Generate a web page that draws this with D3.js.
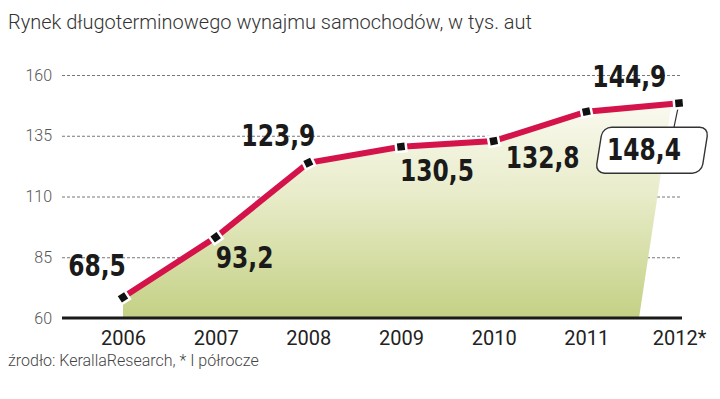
<!DOCTYPE html>
<html>
<head>
<meta charset="utf-8">
<script src="https://cdn.jsdelivr.net/npm/d3@7"></script>
<style>
  body { margin: 0; background: #fff; }
  svg { display: block; }
  .title { font-family: Roboto, "Open Sans", sans-serif; font-weight: 300; font-size: 20px; fill: #333; }
  .source { font-family: Roboto, "Open Sans", sans-serif; font-weight: 300; font-size: 16px; fill: #444; }
  .yaxis text { font-family: Roboto, sans-serif; font-weight: 300; font-size: 16px; fill: #555; }
  .xaxis text { font-family: Roboto, sans-serif; font-size: 20px; fill: #222; }
  .val { font-family: "DejaVu Sans Condensed", sans-serif; font-weight: bold; font-size: 26px; fill: #1a1a1a; }
</style>
</head>
<body>
<div id="chart"></div>
<script>
var years = ["2006", "2007", "2008", "2009", "2010", "2011", "2012*"];
var values = [68.5, 93.2, 123.9, 130.5, 132.8, 144.9, 148.4];
var valueLabels = ["68,5", "93,2", "123,9", "130,5", "132,8", "144,9", "148,4"];
var yTicks = [60, 85, 110, 135, 160];

// where each value label sits relative to its point
var labelOffsets = [[-26, -21], [29, 31], [-30, -17], [36, 34], [49, 27], [43, -25], [-35, 57]];

var svgWidth = 720;
var svgHeight = 399;
var plotLeft = 62, plotRight = 682, plotTop = 75, plotBottom = 318;

var svg = d3.select("#chart")
    .append("svg")
    .attr("width", svgWidth)
    .attr("height", svgHeight);

var xScale = d3.scalePoint()
    .domain(years)
    .range([123, 679]);

var yScale = d3.scaleLinear()
    .domain([60, 160])
    .range([plotBottom, plotTop]);

var data = years.map(function (yr, i) {
    return { year: yr, value: values[i], label: valueLabels[i] };
});

// Title
svg.append("text")
    .attr("class", "title")
    .attr("x", 8)
    .attr("y", 29)
    .text("Rynek długoterminowego wynajmu samochodów, w tys. aut");

// Gradient for the area
var defs = svg.append("defs");
var grad = defs.append("linearGradient")
    .attr("id", "areaGrad")
    .attr("gradientUnits", "userSpaceOnUse")
    .attr("x1", 0).attr("x2", 0)
    .attr("y1", 95).attr("y2", plotBottom);
grad.append("stop").attr("offset", "0%").attr("stop-color", "#fbfbf3");
grad.append("stop").attr("offset", "45%").attr("stop-color", "#e8ecc9");
grad.append("stop").attr("offset", "100%").attr("stop-color", "#c4d084");

// slanted edges of the area
var x0 = xScale(years[0]), xN = xScale(years[years.length - 1]);
var slopeL = 0.62, slopeR = 0.152;
defs.append("clipPath")
    .attr("id", "areaClip")
    .append("polygon")
    .attr("points", [
        [x0 - 13, plotBottom], [x0 - 13 + slopeL * plotBottom, 0],
        [xN - 40 + slopeR * plotBottom, 0], [xN - 40, plotBottom]
    ].map(function (p) { return p.join(","); }).join(" "));

// Y axis with dashed gridlines
var leftAxis = d3.axisLeft(yScale)
    .tickValues(yTicks)
    .tickSize(-(plotRight - 2 - plotLeft))
    .tickPadding(10);

var yAxisG = svg.append("g")
    .attr("class", "yaxis")
    .attr("transform", `translate(${plotLeft}, 0)`)
    .call(leftAxis);
yAxisG.select(".domain").remove();
yAxisG.selectAll("line")
    .attr("stroke", "#777")
    .attr("stroke-width", 1)
    .attr("stroke-dasharray", "3,2");

// Area
var area = d3.area()
    .x(function (d) { return xScale(d.year); })
    .y0(plotBottom)
    .y1(function (d) { return yScale(d.value); });

svg.append("path")
    .datum(data)
    .attr("d", area)
    .attr("fill", "url(#areaGrad)")
    .attr("clip-path", "url(#areaClip)");

// Baseline
svg.append("line")
    .attr("x1", plotLeft).attr("x2", plotRight)
    .attr("y1", yScale(60)).attr("y2", yScale(60))
    .attr("stroke", "#1a1a1a")
    .attr("stroke-width", 3);

// X axis labels
var bottomAxis = d3.axisBottom(xScale)
    .tickSize(0)
    .tickPadding(13);
var xAxisG = svg.append("g")
    .attr("class", "xaxis")
    .attr("transform", `translate(0, ${plotBottom})`)
    .call(bottomAxis);
xAxisG.select(".domain").remove();

// Line
var line = d3.line()
    .x(function (d) { return xScale(d.year); })
    .y(function (d) { return yScale(d.value); });

svg.append("path")
    .datum(data)
    .attr("d", line)
    .attr("fill", "none")
    .attr("stroke", "#d5134b")
    .attr("stroke-width", 6);

// Callout box for the last value
var last = data[data.length - 1];
var lx = xScale(last.year), ly = yScale(last.value);
var box = labelOffsets[labelOffsets.length - 1];
var bcx = lx + box[0] + 8, bcy = ly + box[1] - 10;

svg.append("line")
    .attr("x1", lx).attr("y1", ly)
    .attr("x2", lx - 5).attr("y2", bcy - 23)
    .attr("stroke", "#333")
    .attr("stroke-width", 1.2);

svg.append("rect")
    .attr("x", -53).attr("y", -23)
    .attr("width", 106).attr("height", 46)
    .attr("rx", 9)
    .attr("transform", `translate(${bcx}, ${bcy}) skewX(-9)`)
    .attr("fill", "#fff")
    .attr("stroke", "#333")
    .attr("stroke-width", 1.4);

// Markers, turned along the line
svg.selectAll(".marker")
    .data(data)
    .enter()
    .append("rect")
    .attr("class", "marker")
    .attr("x", -5).attr("y", -5)
    .attr("width", 10).attr("height", 10)
    .attr("transform", function (d, i) {
        var a = data[Math.max(i - 1, 0)], b = data[Math.min(i + 1, data.length - 1)];
        var ang = Math.atan2(yScale(b.value) - yScale(a.value), xScale(b.year) - xScale(a.year)) * 180 / Math.PI;
        return `translate(${xScale(d.year)}, ${yScale(d.value)}) rotate(${ang})`;
    })
    .attr("fill", "#111")
    .attr("stroke", "#fff")
    .attr("stroke-width", 2.5);

// Value labels (a bit taller than the condensed font to look like the original)
svg.selectAll(".val")
    .data(data)
    .enter()
    .append("text")
    .attr("class", "val")
    .attr("transform", function (d, i) {
        var tx = xScale(d.year) + labelOffsets[i][0];
        var ty = yScale(d.value) + labelOffsets[i][1];
        return `translate(${tx}, ${ty}) scale(1, 1.14)`;
    })
    .attr("text-anchor", "middle")
    .text(function (d) { return d.label; });

// Source note
svg.append("text")
    .attr("class", "source")
    .attr("x", 8)
    .attr("y", 366)
    .text("źrodło: KerallaResearch, * I półrocze");
</script>
</body>
</html>
